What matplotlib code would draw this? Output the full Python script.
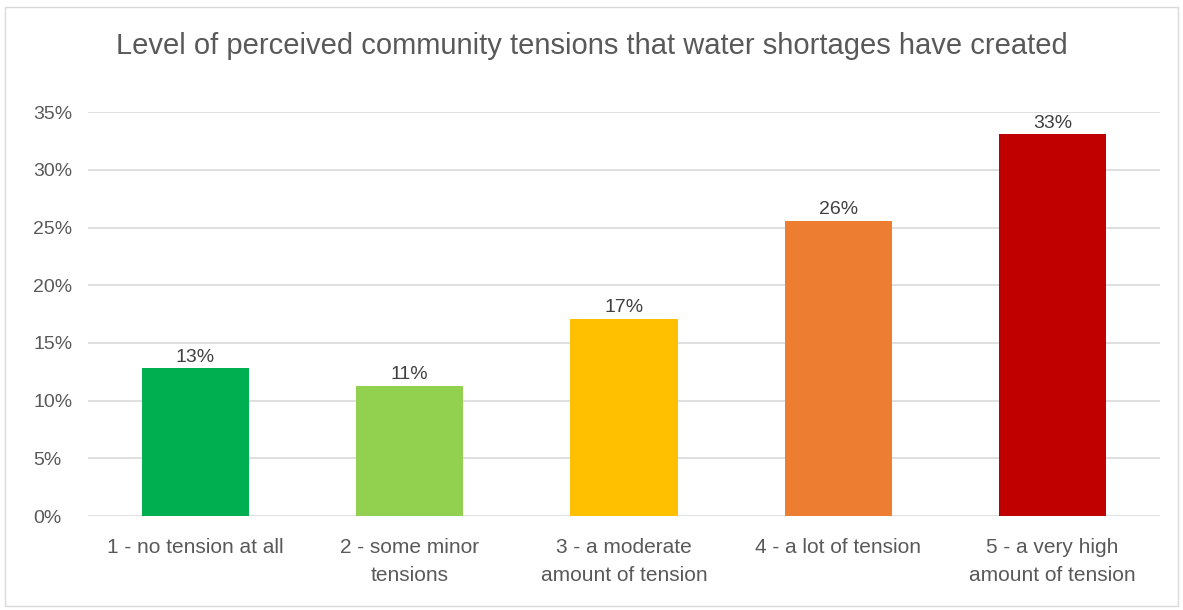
import matplotlib.pyplot as plt
from matplotlib.patches import Rectangle
from matplotlib.ticker import FuncFormatter

# survey answers (share of respondents)
categories = ['1 - no tension at all', '2 - some minor\ntensions',
              '3 - a moderate\namount of tension', '4 - a lot of tension',
              '5 - a very high\namount of tension']
shares = [0.128, 0.113, 0.171, 0.256, 0.331]
bar_colors = ['#00B050', '#92D050', '#FFC000', '#ED7D31', '#C00000']

plt.rcParams['font.family'] = ['Liberation Sans', 'DejaVu Sans']

fig = plt.figure(figsize=(11.83, 6.10), dpi=100)
ax = fig.add_axes([0.0744, 0.154, 0.906, 0.662])

x = range(len(categories))
bars = ax.bar(x, shares, width=0.5, color=bar_colors, zorder=3)

for b, v in zip(bars, shares):
    ax.text(b.get_x() + b.get_width() / 2, v + 0.002, f'{v * 100:.0f}%',
            ha='center', va='bottom', fontsize=14, color='#404040')

ax.set_ylim(0, 0.35)
ax.set_xlim(-0.5, len(categories) - 0.5)
ax.set_yticks([i * 0.05 for i in range(8)])
ax.yaxis.set_major_formatter(FuncFormatter(lambda v, p: f'{v * 100:.0f}%'))
ax.set_xticks(list(x))
ax.set_xticklabels(categories, fontsize=15, color='#595959', linespacing=1.6)
ax.tick_params(axis='y', labelsize=14, labelcolor='#595959', length=0, pad=39.6)
ax.tick_params(axis='x', length=0, pad=16)
for lab in ax.get_yticklabels():
    lab.set_horizontalalignment('left')

ax.grid(axis='y', color='#D9D9D9', linewidth=1.2, zorder=0)
for s in ax.spines.values():
    s.set_visible(False)

fig.text(0.5, 0.925, 'Level of perceived community tensions that water shortages have created',
         ha='center', va='center', fontsize=21, color='#595959')

# thin chart-area border
fig.patches.append(Rectangle((0.004, 0.006), 0.992, 0.982, transform=fig.transFigure,
                             fill=False, edgecolor='#D9D9D9', linewidth=1))

fig.savefig('out.png', dpi=100)
